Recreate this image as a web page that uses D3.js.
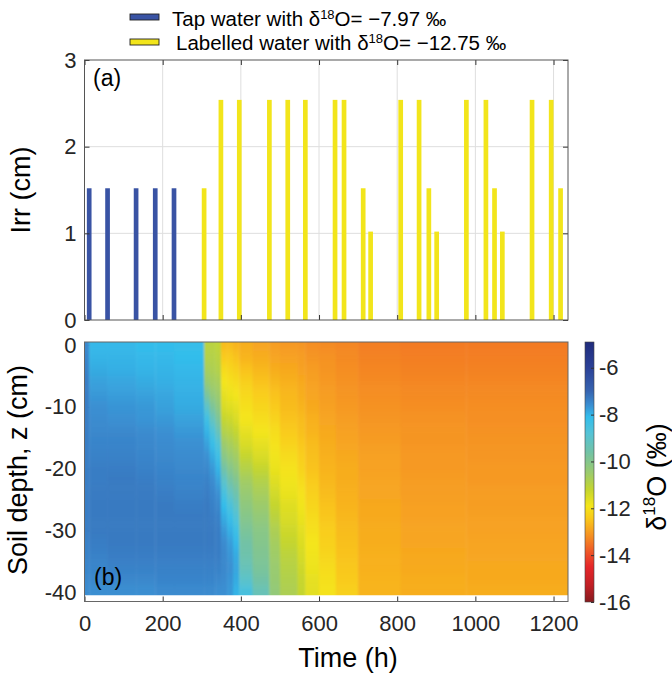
<!DOCTYPE html>
<html>
<head>
<meta charset="utf-8">
<script src="https://d3js.org/d3.v7.min.js"></script>
<style>
  body { margin: 0; background: #fff; }
  svg { font-family: "Liberation Sans", Arial, sans-serif; }
  .axis text { font-size: 22px; fill: #262626; font-family: "Liberation Sans", Arial, sans-serif; }
  .axis line { stroke: #333; }
  .axis path { display: none; }
  .title { font-size: 27px; fill: #000; }
  .legend-text { font-size: 20.5px; fill: #000; }
</style>
</head>
<body>
<svg id="chart" width="672" height="676"></svg>
<script>
// irrigation events: time (h) and amount (cm)
const tapTimes = [12, 59, 132, 181, 229];
const tapIrr = [1.52, 1.52, 1.52, 1.52, 1.52];
const labTimes = [306, 349, 396, 473, 520, 565, 641, 664, 713, 732, 809, 856, 881, 901, 977, 1027, 1049, 1069, 1145, 1194, 1218];
const labIrr = [1.52, 2.54, 2.54, 2.54, 2.54, 2.54, 2.54, 2.54, 1.52, 1.02, 2.54, 2.54, 1.52, 1.02, 2.54, 2.54, 1.52, 1.02, 2.54, 2.54, 1.52];

const irrTicks = [0, 1, 2, 3];
const timeTicks = [0, 200, 400, 600, 800, 1000, 1200];
const depthTicks = [0, -10, -20, -30, -40];
const cbarTicks = [-6, -8, -10, -12, -14, -16];

// simulated d18O profiles: one column per time, one row per depth (cm)
const profileDepths = [0, -2, -4, -6, -8, -10, -12, -14, -16, -18, -20, -22, -24, -26, -28, -30, -32, -34, -36, -38, -40];
const profileTimes = [0, 12, 59, 132, 181, 229, 306, 320, 335, 349, 365, 380, 396, 430, 473, 500, 545, 565, 600, 643, 700, 809, 977];
const profiles = [
  [-7.5, -7.45, -7.4, -7.35, -7.35, -7.35, -7.35, -7.35, -7.35, -7.35, -7.35, -7.35, -7.35, -7.35, -7.35, -7.35, -7.4, -7.4, -7.45, -7.5, -7.55],
  [-8.05, -8.0, -7.9, -7.8, -7.7, -7.6, -7.55, -7.5, -7.45, -7.4, -7.35, -7.35, -7.3, -7.3, -7.3, -7.3, -7.35, -7.4, -7.45, -7.5, -7.6],
  [-8.05, -8.0, -7.95, -7.85, -7.75, -7.65, -7.6, -7.5, -7.45, -7.4, -7.35, -7.3, -7.3, -7.3, -7.3, -7.3, -7.3, -7.35, -7.4, -7.5, -7.6],
  [-8.1, -8.05, -8.0, -7.9, -7.8, -7.7, -7.65, -7.55, -7.5, -7.45, -7.4, -7.35, -7.3, -7.3, -7.3, -7.3, -7.3, -7.35, -7.4, -7.5, -7.6],
  [-8.1, -8.05, -8.0, -7.95, -7.85, -7.8, -7.7, -7.6, -7.55, -7.5, -7.45, -7.4, -7.35, -7.3, -7.3, -7.3, -7.3, -7.35, -7.4, -7.45, -7.55],
  [-8.15, -8.1, -8.05, -8.0, -7.95, -7.9, -7.8, -7.7, -7.6, -7.55, -7.5, -7.45, -7.4, -7.35, -7.3, -7.3, -7.3, -7.35, -7.4, -7.45, -7.55],
  [-11.0, -10.9, -10.7, -10.4, -9.8, -9.0, -8.3, -8.0, -7.8, -7.6, -7.5, -7.4, -7.35, -7.3, -7.3, -7.3, -7.3, -7.35, -7.4, -7.45, -7.55],
  [-11.0, -10.9, -10.8, -10.6, -10.3, -9.8, -9.2, -8.6, -8.2, -7.9, -7.7, -7.55, -7.45, -7.4, -7.35, -7.3, -7.3, -7.35, -7.4, -7.45, -7.55],
  [-11.1, -11.0, -10.9, -10.7, -10.5, -10.2, -9.8, -9.3, -8.7, -8.3, -8.0, -7.8, -7.6, -7.5, -7.4, -7.35, -7.35, -7.35, -7.4, -7.5, -7.6],
  [-12.6, -12.4, -12.1, -11.9, -11.7, -11.5, -11.2, -10.9, -10.5, -10.1, -9.6, -9.0, -8.5, -8.1, -7.9, -7.7, -7.55, -7.5, -7.5, -7.55, -7.6],
  [-12.6, -12.4, -12.2, -12.0, -11.8, -11.6, -11.3, -11.0, -10.7, -10.4, -10.0, -9.6, -9.1, -8.6, -8.2, -7.95, -7.75, -7.65, -7.6, -7.65, -7.7],
  [-12.7, -12.5, -12.3, -12.1, -11.9, -11.7, -11.5, -11.2, -10.9, -10.6, -10.3, -9.9, -9.5, -9.1, -8.7, -8.3, -8.05, -7.9, -7.85, -7.9, -8.0],
  [-12.8, -12.7, -12.5, -12.3, -12.15, -12.0, -11.9, -11.7, -11.5, -11.2, -10.9, -10.6, -10.4, -10.2, -10.0, -9.8, -9.6, -9.5, -9.3, -9.0, -8.5],
  [-12.9, -12.8, -12.65, -12.5, -12.35, -12.2, -12.05, -11.9, -11.7, -11.5, -11.2, -10.9, -10.7, -10.5, -10.3, -10.1, -10.0, -9.9, -9.8, -9.6, -9.3],
  [-13.0, -12.9, -12.8, -12.65, -12.5, -12.4, -12.25, -12.05, -11.95, -11.85, -11.75, -11.6, -11.4, -11.2, -11.0, -10.8, -10.65, -10.55, -10.45, -10.4, -10.3],
  [-13.05, -12.95, -12.85, -12.75, -12.65, -12.6, -12.5, -12.4, -12.25, -12.1, -11.95, -11.85, -11.75, -11.6, -11.5, -11.35, -11.2, -11.05, -10.95, -10.85, -10.8],
  [-13.1, -13.0, -12.95, -12.85, -12.8, -12.7, -12.6, -12.55, -12.45, -12.35, -12.25, -12.1, -11.95, -11.85, -11.75, -11.65, -11.55, -11.45, -11.35, -11.25, -11.2],
  [-13.2, -13.1, -13.0, -12.95, -12.9, -12.85, -12.75, -12.7, -12.6, -12.55, -12.5, -12.4, -12.3, -12.2, -12.1, -12.0, -11.9, -11.85, -11.8, -11.7, -11.65],
  [-13.25, -13.15, -13.1, -13.05, -13.0, -12.95, -12.9, -12.85, -12.8, -12.75, -12.7, -12.65, -12.6, -12.5, -12.45, -12.35, -12.3, -12.2, -12.1, -12.0, -11.95],
  [-13.3, -13.25, -13.2, -13.15, -13.1, -13.05, -13.0, -12.95, -12.9, -12.85, -12.8, -12.8, -12.75, -12.7, -12.65, -12.6, -12.55, -12.5, -12.45, -12.4, -12.3],
  [-13.4, -13.35, -13.3, -13.25, -13.2, -13.15, -13.1, -13.05, -13.0, -12.95, -12.95, -12.9, -12.9, -12.85, -12.85, -12.8, -12.8, -12.75, -12.75, -12.7, -12.7],
  [-13.45, -13.4, -13.35, -13.3, -13.25, -13.2, -13.15, -13.1, -13.1, -13.05, -13.05, -13.0, -13.0, -12.95, -12.95, -12.9, -12.9, -12.85, -12.85, -12.8, -12.8],
  [-13.45, -13.4, -13.35, -13.3, -13.25, -13.2, -13.2, -13.15, -13.1, -13.1, -13.05, -13.05, -13.0, -13.0, -12.95, -12.95, -12.9, -12.9, -12.85, -12.85, -12.8]
];

// colour map stops
const cmapValues = [-16, -15.3, -14.5, -13.9, -13.4, -12.9, -12.4, -11.9, -11.2, -10.5, -9.6, -8.8, -8.1, -7.6, -7.0, -6.0, -4.9];
const cmapColors = ['#861a1e', '#c01f25', '#e52629', '#ee5328', '#f37e24', '#f7a520', '#f9cb1a', '#f4e51a', '#c4d52f', '#9ccb6c', '#72c2a6', '#55c3d6', '#33bdeb', '#3a8fd2', '#3764b0', '#2b4197', '#202c7c'];

const tEnd = 1237;
const svg = d3.select('#chart');

const x = d3.scaleLinear().domain([0, tEnd]).range([84.5, 568]);
const yIrr = d3.scaleLinear().domain([0, 3]).range([320, 60]);
const yZ = d3.scaleLinear().domain([-41.5, 0.5]).range([601.5, 342]);
const yC = d3.scaleLinear().domain([-16, -4.9]).range([602, 342]);
const color = d3.scaleLinear().domain(cmapValues).range(cmapColors).interpolate(d3.interpolateRgb);

// ---------- legend ----------
const legend = [
  {fill: '#3953a4', y: 14, tx: 172, ty: 26, label: 'Tap water with δ', rest: 'O= −7.97 ‰'},
  {fill: '#f2e51b', y: 39, tx: 176, ty: 49.5, label: 'Labelled water with δ', rest: 'O= −12.75 ‰'}
];
legend.forEach(l => {
  svg.append('rect').attr('x', 130).attr('y', l.y).attr('width', 29).attr('height', 6)
    .attr('fill', l.fill).attr('stroke', '#222').attr('stroke-width', 0.9);
  const t = svg.append('text').attr('class', 'legend-text').attr('x', l.tx).attr('y', l.ty);
  t.append('tspan').text(l.label);
  t.append('tspan').attr('font-size', 13).attr('dy', -7).text('18');
  t.append('tspan').attr('dy', 7).text(l.rest);
});

// ---------- panel (a) ----------
const panelA = svg.append('g');
panelA.selectAll('.gx').data(timeTicks.slice(1)).enter().append('line')
  .attr('x1', d => x(d)).attr('x2', d => x(d)).attr('y1', 60).attr('y2', 320)
  .attr('stroke', '#dedede');
panelA.selectAll('.gy').data(irrTicks.slice(1, 3)).enter().append('line')
  .attr('x1', x(0)).attr('x2', x(tEnd)).attr('y1', d => yIrr(d)).attr('y2', d => yIrr(d))
  .attr('stroke', '#dedede');

const barHalf = 6;
panelA.selectAll('.tap').data(tapTimes).enter().append('rect')
  .attr('x', d => x(d - barHalf)).attr('width', d => x(d + barHalf) - x(d - barHalf))
  .attr('y', (d, i) => yIrr(tapIrr[i])).attr('height', (d, i) => yIrr(0) - yIrr(tapIrr[i]))
  .attr('fill', '#3953a4');
panelA.selectAll('.lab').data(labTimes).enter().append('rect')
  .attr('x', d => x(d - barHalf)).attr('width', d => x(d + barHalf) - x(d - barHalf))
  .attr('y', (d, i) => yIrr(labIrr[i])).attr('height', (d, i) => yIrr(0) - yIrr(labIrr[i]))
  .attr('fill', '#f2e51b');

panelA.append('g').attr('class', 'axis').attr('transform', 'translate(0,320)')
  .call(d3.axisBottom(x).tickValues(timeTicks).tickSize(-5).tickFormat(''));
panelA.append('g').attr('class', 'axis').attr('transform', 'translate(0,60)')
  .call(d3.axisTop(x).tickValues(timeTicks).tickSize(-5).tickFormat(''));
panelA.append('g').attr('class', 'axis').attr('transform', `translate(${x(0)},0)`)
  .call(d3.axisLeft(yIrr).tickValues(irrTicks).tickSize(-5).tickPadding(8).tickFormat(d => String(d)));
panelA.append('g').attr('class', 'axis').attr('transform', `translate(${x(tEnd)},0)`)
  .call(d3.axisRight(yIrr).tickValues(irrTicks).tickSize(-5).tickFormat(''));
panelA.append('rect').attr('x', x(0)).attr('y', 60).attr('width', x(tEnd) - x(0)).attr('height', 260)
  .attr('fill', 'none').attr('stroke', '#555');
panelA.append('text').attr('x', 93).attr('y', 86).attr('font-size', 23).attr('fill', '#000').text('(a)');
svg.append('text').attr('class', 'title').attr('text-anchor', 'middle')
  .attr('transform', 'translate(30,190) rotate(-90)').text('Irr (cm)');

// ---------- panel (b) ----------
const panelB = svg.append('g');
panelB.append('g').attr('class', 'axis').attr('transform', 'translate(0,601.5)')
  .call(d3.axisBottom(x).tickValues(timeTicks).tickSize(-5).tickPadding(14).tickFormat(d => String(d)));
panelB.append('g').attr('class', 'axis').attr('transform', `translate(${x(0)},0)`)
  .call(d3.axisLeft(yZ).tickValues(depthTicks).tickSize(-5).tickPadding(8).tickFormat(d => String(d)));

const defs = svg.append('defs');
const blur = defs.append('filter').attr('id', 'smooth').attr('filterUnits', 'userSpaceOnUse')
  .attr('x', 0).attr('y', 280).attr('width', 672).attr('height', 380);
blur.append('feGaussianBlur').attr('stdDeviation', '0.8 5');
defs.append('clipPath').attr('id', 'mapclip').append('rect')
  .attr('x', x(0)).attr('y', yZ(0.5)).attr('width', x(tEnd) - x(0)).attr('height', yZ(-40.5) - yZ(0.5));

const lastCol = profileTimes.length - 1, lastRow = profileDepths.length - 1;
const cells = [];
profileTimes.forEach((t, i) => {
  const t0 = i === 0 ? -40 : t;
  const t1 = i === lastCol ? tEnd + 40 : profileTimes[i + 1];
  profileDepths.forEach((z, j) => {
    cells.push({t0: t0, t1: t1, z0: j === 0 ? z + 5 : z + 1, z1: j === lastRow ? z - 5 : z - 1, v: profiles[i][j]});
  });
});
panelB.append('g').attr('clip-path', 'url(#mapclip)')
  .append('g').attr('filter', 'url(#smooth)')
  .selectAll('rect').data(cells).enter().append('rect')
  .attr('x', d => x(d.t0)).attr('width', d => x(d.t1) - x(d.t0) + 0.4)
  .attr('y', d => yZ(d.z0)).attr('height', d => yZ(d.z1) - yZ(d.z0) + 0.4)
  .attr('fill', d => color(d.v));

panelB.append('rect').attr('x', x(0)).attr('y', 342).attr('width', x(tEnd) - x(0)).attr('height', 259.5)
  .attr('fill', 'none').attr('stroke', '#666');
panelB.append('text').attr('x', 94).attr('y', 585).attr('font-size', 23).attr('fill', '#000').text('(b)');
svg.append('text').attr('class', 'title').attr('text-anchor', 'middle')
  .attr('transform', 'translate(27,470) rotate(-90)').text('Soil depth, z (cm)');
svg.append('text').attr('class', 'title').attr('text-anchor', 'middle')
  .attr('x', 348).attr('y', 667).text('Time (h)');

// ---------- colour bar ----------
const grad = defs.append('linearGradient').attr('id', 'cbar')
  .attr('x1', 0).attr('y1', 1).attr('x2', 0).attr('y2', 0);
cmapValues.forEach((v, i) => {
  grad.append('stop').attr('offset', (v - (-16)) / (-4.9 - (-16))).attr('stop-color', cmapColors[i]);
});
svg.append('rect').attr('x', 585).attr('y', yC(-4.9)).attr('width', 9).attr('height', yC(-16) - yC(-4.9))
  .attr('fill', 'url(#cbar)').attr('stroke', '#444').attr('stroke-width', 0.6);
svg.append('g').attr('class', 'axis').attr('transform', 'translate(594,0)')
  .call(d3.axisRight(yC).tickValues(cbarTicks).tickSize(-3).tickPadding(5).tickFormat(d => String(d)));

const cl = svg.append('text').attr('class', 'title').attr('text-anchor', 'middle')
  .attr('transform', 'translate(666,477) rotate(-90)');
cl.append('tspan').text('δ');
cl.append('tspan').attr('font-size', 17).attr('dy', -11).text('18');
cl.append('tspan').attr('dy', 11).text('O (‰)');
</script>
</body>
</html>
